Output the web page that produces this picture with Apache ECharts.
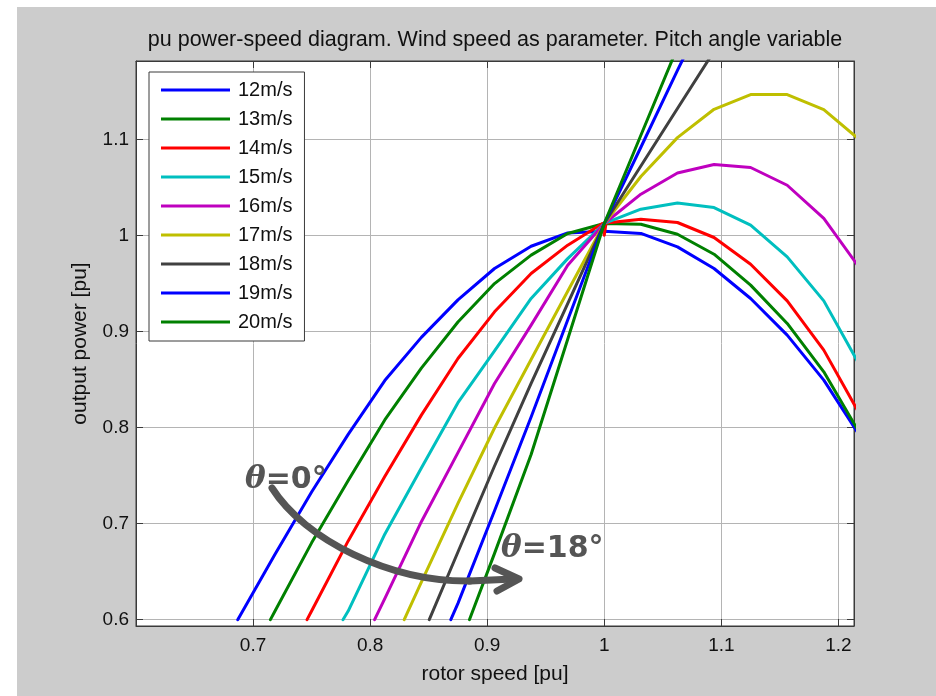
<!DOCTYPE html>
<html>
<head>
<meta charset="utf-8">
<script src="https://cdn.jsdelivr.net/npm/echarts@6/dist/echarts.min.js"></script>
<style>
  html, body { margin: 0; padding: 0; background: #ffffff; }
  #wrap { position: relative; width: 936px; height: 696px; }
  #panel { position: absolute; left: 17px; top: 7px; right: 0; bottom: 0; background: #cccccc; }
  #chart { position: absolute; left: 0; top: 0; width: 936px; height: 696px; }
</style>
</head>
<body>
<div id="wrap"><div id="panel"></div><div id="chart"></div></div>
<script>
// Axis ticks
const xTicks = [0.6, 0.7, 0.8, 0.9, 1.0, 1.1, 1.2];
const xTickLabels = [0.7, 0.8, 0.9, 1.0, 1.1, 1.2];
const yTicks = [0.6, 0.7, 0.8, 0.9, 1.0, 1.1];

// Wind speed of each curve
const windSpeeds = ['12m/s', '13m/s', '14m/s', '15m/s', '16m/s', '17m/s', '18m/s', '19m/s', '20m/s'];

// [rotor speed pu, output power pu] for each wind speed
const curve12 = [[0.6869,0.600],[0.71875,0.668],[0.75,0.733],[0.78125,0.793],[0.8125,0.849],[0.84375,0.894],[0.875,0.933],[0.90625,0.9657],[0.9375,0.9889],[0.96875,1.0028],[1.0,1.0045],[1.03125,1.0022],[1.0625,0.9882],[1.09375,0.9657],[1.125,0.9345],[1.15625,0.8963],[1.1875,0.8495],[1.21875,0.7906]];
const curve13 = [[0.7148,0.600],[0.71875,0.609],[0.75,0.680],[0.78125,0.745],[0.8125,0.808],[0.84375,0.862],[0.875,0.910],[0.90625,0.950],[0.9375,0.9796],[0.96875,1.0022],[1.0,1.0126],[1.03125,1.0118],[1.0625,1.0014],[1.09375,0.9806],[1.125,0.9484],[1.15625,0.9085],[1.1875,0.8581],[1.21875,0.793]];
const curve14 = [[0.7461,0.600],[0.75,0.609],[0.78125,0.682],[0.8125,0.749],[0.84375,0.813],[0.875,0.872],[0.90625,0.9206],[0.9375,0.9605],[0.96875,0.990],[0.9985,1.0126],[1.0,1.0004],[1.0015,1.013],[1.03125,1.017],[1.0625,1.0136],[1.09375,0.998],[1.125,0.9702],[1.15625,0.932],[1.1875,0.8807],[1.21875,0.8127]];
const curve15 = [[0.7768,0.600],[0.78125,0.609],[0.8125,0.689],[0.84375,0.758],[0.875,0.826],[0.90625,0.880],[0.9375,0.9345],[0.96875,0.976],[1.0,1.0126],[1.03125,1.0275],[1.0625,1.034],[1.09375,1.0292],[1.125,1.0108],[1.15625,0.9778],[1.1875,0.932],[1.21875,0.8636]];
const curve16 = [[0.8038,0.600],[0.8125,0.622],[0.84375,0.702],[0.875,0.774],[0.90625,0.846],[0.9375,0.9067],[0.96875,0.969],[1.0,1.0126],[1.03125,1.0431],[1.0625,1.0652],[1.09375,1.074],[1.125,1.0709],[1.15625,1.0524],[1.1875,1.0178],[1.21875,0.9652]];
const curve17 = [[0.8291,0.600],[0.84375,0.639],[0.875,0.721],[0.90625,0.7996],[0.9375,0.871],[0.96875,0.942],[1.0,1.0126],[1.03125,1.0615],[1.0625,1.102],[1.09375,1.1315],[1.125,1.1468],[1.15625,1.1468],[1.1875,1.1312],[1.21875,1.099]];
const curve18 = [[0.8505,0.600],[0.875,0.6705],[0.90625,0.760],[0.9375,0.846],[0.96875,0.929],[1.0,1.0126],[1.03125,1.0725],[1.0625,1.1324],[1.09375,1.192]];
const curve19 = [[0.8689,0.600],[0.875,0.617],[0.90625,0.7135],[0.9375,0.811],[0.96875,0.912],[1.0,1.0126],[1.03125,1.092],[1.0625,1.172],[1.09375,1.25]];
const curve20 = [[0.8848,0.600],[0.90625,0.669],[0.9375,0.772],[0.96875,0.892],[1.0,1.0126],[1.03125,1.1045],[1.0625,1.196]];

const curves = [curve12, curve13, curve14, curve15, curve16, curve17, curve18, curve19, curve20];
const lineColors = ['#0000ff', '#008000', '#ff0000', '#00bfbf', '#bf00bf', '#bfbf00', '#404040', '#0000ff', '#008000'];

const font = 'Arial, "Liberation Sans", Helvetica, sans-serif';
const frame = '#3a3a3a';
const gridLine = { show: true, lineStyle: { color: '#b4b4b4', width: 1, type: 'solid' } };

const chart = echarts.init(document.getElementById('chart'), null, { renderer: 'canvas' });

const series = curves.map((pts, i) => ({
  name: windSpeeds[i],
  type: 'line',
  xAxisIndex: 0,
  yAxisIndex: 0,
  data: pts,
  showSymbol: false,
  symbol: 'none',
  clip: true,
  animation: false,
  lineStyle: { color: lineColors[i], width: 3, join: 'round', cap: 'round' },
  itemStyle: { color: lineColors[i] },
  z: 2 + i
}));

const annotationColor = '#555555';
const thetaRich = {
  t: { fontFamily: '"DejaVu Serif", serif', fontStyle: 'italic', fontWeight: 'bold', fontSize: 31, fill: annotationColor, color: annotationColor },
  r: { fontFamily: '"DejaVu Sans", sans-serif', fontWeight: 'bold', fontSize: 30, fill: annotationColor, color: annotationColor }
};

chart.setOption({
  backgroundColor: 'transparent',
  animation: false,
  title: {
    text: 'pu power-speed diagram. Wind speed as parameter. Pitch angle variable',
    left: 490, top: 24, textAlign: 'center',
    textStyle: { fontFamily: font, fontSize: 21.5, fontWeight: 'normal', color: '#111' }
  },
  grid: {
    left: 136, top: 61, right: 82, bottom: 70,
    show: true, backgroundColor: '#ffffff', borderColor: frame, borderWidth: 1,
    containLabel: false
  },
  legend: {
    orient: 'vertical',
    left: 149, top: 72,
    padding: [8, 12, 9, 12],
    itemGap: 9,
    itemWidth: 69, itemHeight: 3,
    icon: 'rect',
    backgroundColor: '#ffffff',
    borderColor: frame, borderWidth: 1, borderRadius: 0,
    textStyle: { fontFamily: font, fontSize: 20, color: '#111', lineHeight: 20, padding: [0, 0, 0, 3] },
    data: windSpeeds.map((n, i) => ({ name: n, itemStyle: { color: lineColors[i] } }))
  },
  xAxis: [{
    type: 'value', position: 'bottom', min: 0.6, max: 1.2133,
    name: 'rotor speed [pu]', nameLocation: 'middle', nameGap: 38,
    nameTextStyle: { fontFamily: font, fontSize: 21, color: '#111' },
    axisLine: { show: true, onZero: false, lineStyle: { color: frame, width: 1 } },
    axisTick: { show: true, inside: true, length: 7, customValues: xTicks, lineStyle: { color: frame } },
    axisLabel: { show: true, customValues: xTickLabels, margin: 10, fontFamily: font, fontSize: 19, color: '#111',
      formatter: v => (Math.round(v * 10) / 10).toString() },
    splitLine: gridLine
  }, {
    type: 'value', position: 'top', min: 0.6, max: 1.2133,
    axisLine: { show: true, onZero: false, lineStyle: { color: frame, width: 1 } },
    axisTick: { show: true, inside: true, length: 7, customValues: xTicks, lineStyle: { color: frame } },
    axisLabel: { show: false, customValues: xTicks },
    splitLine: { show: false }
  }],
  yAxis: [{
    type: 'value', position: 'left', min: 0.5934, max: 1.1818,
    name: 'output power [pu]', nameLocation: 'middle', nameGap: 45, nameRotate: 90,
    nameTextStyle: { fontFamily: font, fontSize: 21, color: '#111' },
    axisLine: { show: true, onZero: false, lineStyle: { color: frame, width: 1 } },
    axisTick: { show: true, inside: true, length: 7, customValues: yTicks, lineStyle: { color: frame } },
    axisLabel: { show: true, customValues: yTicks, margin: 7, fontFamily: font, fontSize: 19, color: '#111',
      formatter: v => (Math.round(v * 10) / 10).toString() },
    splitLine: gridLine
  }, {
    type: 'value', position: 'right', min: 0.5934, max: 1.1818,
    axisLine: { show: true, onZero: false, lineStyle: { color: frame, width: 1 } },
    axisTick: { show: true, inside: true, length: 7, customValues: yTicks, lineStyle: { color: frame } },
    axisLabel: { show: false, customValues: yTicks },
    splitLine: { show: false }
  }],
  series: series,
  graphic: [
    {
      type: 'bezierCurve', z: 100,
      shape: { x1: 272, y1: 488, cpx1: 305, cpy1: 540, cpx2: 390, cpy2: 582, x2: 470, y2: 581 },
      style: { stroke: annotationColor, lineWidth: 7, fill: null, lineCap: 'round' }
    },
    {
      type: 'polyline', z: 100,
      shape: { points: [[470, 581], [513, 579]] },
      style: { stroke: annotationColor, lineWidth: 7, fill: null, lineCap: 'round' }
    },
    {
      type: 'polyline', z: 100,
      shape: { points: [[495, 568], [519, 579], [497, 591]] },
      style: { stroke: annotationColor, lineWidth: 7, fill: null, lineCap: 'round', lineJoin: 'round' }
    },
    {
      type: 'text', z: 100, x: 245, y: 480,
      style: { text: '{t|θ}{r|=0°}', textVerticalAlign: 'middle', align: 'left', rich: thetaRich }
    },
    {
      type: 'text', z: 100, x: 501, y: 549,
      style: { text: '{t|θ}{r|=18°}', textVerticalAlign: 'middle', align: 'left', rich: thetaRich }
    }
  ]
});
</script>
</body>
</html>
